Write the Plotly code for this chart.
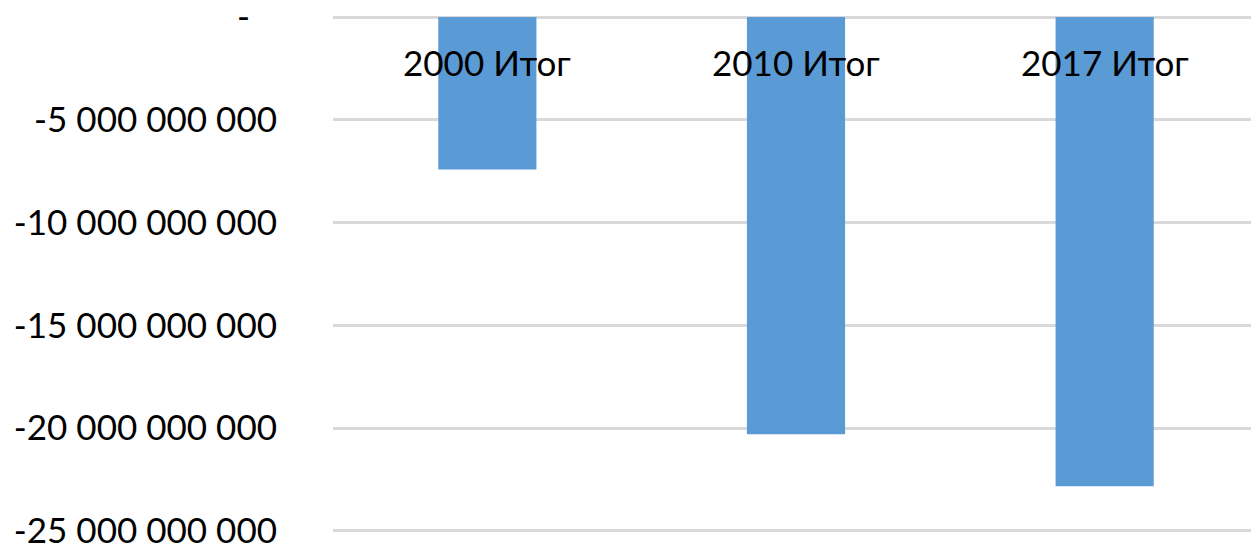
import plotly.graph_objects as go

categories = ["2000 Итог", "2010 Итог", "2017 Итог"]
values = [-7.42e9, -20.30e9, -22.82e9]
tick_vals = [0, -5e9, -10e9, -15e9, -20e9, -25e9]
tick_text = ["-\u00a0\u00a0\u00a0", "-5 000 000 000", "-10 000 000 000",
             "-15 000 000 000", "-20 000 000 000", "-25 000 000 000"]

font_family = "Lato"
font_size = 35

fig = go.Figure()
fig.add_trace(go.Bar(
    x=categories, y=values,
    marker=dict(color="#5b9bd5", line=dict(width=0)),
    hoverinfo="skip",
))

for c in categories:
    fig.add_annotation(
        x=c, y=0, xref="x", yref="y",
        text=c, showarrow=False,
        yanchor="middle", xanchor="center", yshift=-45,
        font=dict(family=font_family, size=font_size, color="#000000"),
    )

fig.update_layout(
    width=1251, height=538,
    margin=dict(l=325, r=0, t=8, b=14, autoexpand=False),
    paper_bgcolor="white", plot_bgcolor="white",
    showlegend=False,
    bargap=0.682,
    font=dict(family=font_family, size=font_size, color="#000000"),
)
fig.update_xaxes(showticklabels=False, showgrid=False, zeroline=False,
                 showline=False, automargin=False)
fig.update_yaxes(
    range=[-25.05e9, 0.05e9],
    tickvals=tick_vals, ticktext=tick_text,
    showgrid=True, gridcolor="#d9d9d9", gridwidth=3,
    zeroline=False, showline=False, ticks="",
    ticklabelstandoff=55,
    ticklabeloverflow="allow",
    automargin=False,
    tickfont=dict(family=font_family, size=font_size, color="#000000"),
)

fig.write_html("out.html")
